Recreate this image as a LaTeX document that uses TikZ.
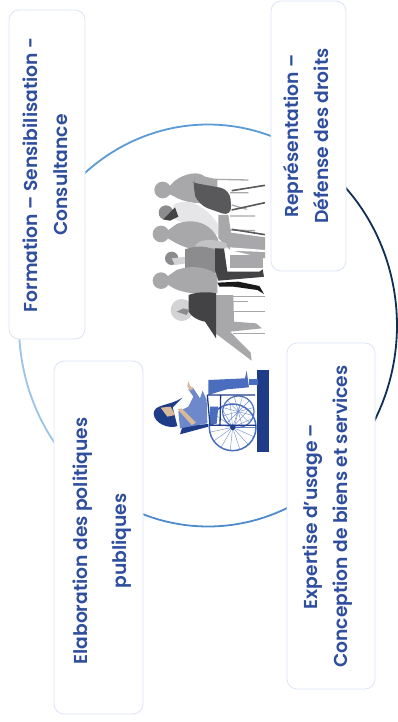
\documentclass[tikz,border=0pt]{standalone}
\usepackage{fontspec}
\setmainfont{Poppins}[BoldFont={Poppins SemiBold}]
\definecolor{txt}{HTML}{2F4E9E}
\definecolor{edge}{HTML}{DCE4F4}
\definecolor{gA}{HTML}{A8A8AA}
\definecolor{gD}{HTML}{59595C}
\definecolor{gK}{HTML}{434345}
\definecolor{gL}{HTML}{E6E6E9}
\definecolor{gM}{HTML}{8C8C8E}
\definecolor{navy}{HTML}{1F3C88}
\definecolor{bM}{HTML}{4A6DBD}
\definecolor{bL}{HTML}{6D88CB}
\definecolor{skin}{HTML}{D9B99B}
\definecolor{ringL}{HTML}{9CC3E8}
\definecolor{ringT}{HTML}{5B9BD5}
\definecolor{ringB}{HTML}{4F8CCB}
\definecolor{ringD}{HTML}{0F2F57}
\tikzset{
  card/.style={draw=edge,line width=0.8pt,fill=white,rounded corners=10pt},
  label/.style={rotate=90,align=center,text=txt,inner sep=0pt,font=\fontsize{18.7}{30}\selectfont\bfseries},
  ring/.style={line width=1.8pt},
  spoke/.style={line width=0.4pt,draw=bL},
  thin leg/.style={draw=gA,line width=1.3pt},
  dark leg/.style={draw=gD,line width=1.6pt}
}
\newcommand{\ringarc}[3]{\draw[ring,#3,domain=#1:#2,samples=40,variable=\t] plot ({208+189*cos(\t)},{325.5-201*sin(\t)});}
\begin{document}
\begin{tikzpicture}[x=1pt,y=-1pt]
\useasboundingbox (0,0) rectangle (398,722);
\fill[white] (0,0) rectangle (398,722);
% ring
\ringarc{135}{65}{color=ringT}
\ringarc{48}{-33}{color=ringD}
\ringarc{-60}{-115}{color=ringB}
\ringarc{175}{222}{color=ringL}
% cards
\node[card,minimum width=76pt,minimum height=329pt] (formation) at (47,174.5) {};
\node[card,minimum width=75pt,minimum height=270pt] (representation) at (308.5,136) {};
\node[card,minimum width=89pt,minimum height=353pt] (elaboration) at (98.5,537.5) {};
\node[card,minimum width=88pt,minimum height=346pt] (expertise) at (331,516) {};
\node[label] (formationtext) at (45,175) {Formation – Sensibilisation -\\Consultance};
\node[label] (representationtext) at (305.5,136) {Représentation –\\Défense des droits};
\node[label,font=\fontsize{18.7}{39}\selectfont\bfseries] (elaborationtext) at (102.5,541) {Elaboration des politiques\\publiques};
\node[label] (expertisetext) at (328,516.5) {Expertise d’usage –\\Conception de biens et services};
% seated people
\begin{scope}[shift={(130,160)},scale=1/3]
  \draw[thin leg] (255,58) -- (355,60) (300,98) -- (355,98) (305,135) -- (350,148) (300,168) -- (375,168) (300,210) -- (375,212);
  \fill[gA] (98,90) circle (25);
  \fill[gA] (112,85) -- (135,62) .. controls (165,40) and (205,32) .. (225,50) -- (262,58) -- (262,125) .. controls (220,135) and (165,130) .. (130,108) -- (112,100) -- cycle;
  \fill[gL] (130,135) .. controls (170,110) and (225,135) .. (262,190) -- (268,225) .. controls (220,215) and (170,195) .. (130,175) -- cycle;
  \fill[gM] (108,158) circle (22);
  \fill[gK] (100,178) -- (135,142) -- (145,170) -- (120,182) -- cycle;
  \fill[gA] (93,222) circle (25);
  \fill[gA] (108,215) -- (140,192) .. controls (190,172) and (245,190) .. (265,240) -- (265,280) .. controls (210,275) and (160,265) .. (122,240) -- (108,232) -- cycle;
  \fill[gA] (265,165) -- (295,165) -- (303,218) -- (405,232) -- (405,295) -- (300,270) -- (265,235) -- cycle;
  \draw[dark leg] (305,92) -- (405,76) (305,150) -- (405,128) (305,208) -- (405,224);
  \fill[gD,rounded corners=10pt] (188,85) .. controls (190,72) and (200,70) .. (215,73) -- (300,88) -- (305,170) -- (205,135) -- cycle;
  \fill[white] (300,262) -- (405,270) -- (405,276) -- (300,272) -- cycle;
  \fill[gA!70] (195,262) .. controls (200,235) and (250,235) .. (290,250) -- (290,265) -- cycle;
  \fill[gA] (300,285) rectangle (400,325);
  \fill[gM] (125,295) circle (20);
  \fill[gL!70!gA] (125,295) -- (170,290) -- (170,310) -- (135,315) -- cycle;
  \fill[gM] (165,268) .. controls (200,255) and (240,258) .. (262,275) -- (262,340) .. controls (225,338) and (190,335) .. (165,325) -- cycle;
  \fill[gA] (93,362) circle (25);
  \fill[gA] (108,352) -- (140,330) .. controls (190,312) and (240,325) .. (262,345) -- (262,400) .. controls (210,405) and (150,400) .. (120,378) -- (108,370) -- cycle;
  \fill[gK] (255,265) -- (282,265) -- (292,335) -- (388,335) -- (398,328) -- (402,350) -- (385,352) -- (265,362) -- (255,330) -- cycle;
  \fill[black!90] (262,368) -- (325,365) -- (388,378) -- (402,402) -- (382,390) -- (310,380) -- (268,380) -- cycle;
\end{scope}
\begin{scope}[shift={(130,300)},scale=1/3]
  \fill[gL!70!gA] (155,30) circle (33);
  \draw[thin leg] (305,-10) -- (405,-10) (305,5) -- (355,5) (305,35) -- (405,35) (310,100) -- (405,100);
  \fill[gA] (258,-15) -- (310,-15) -- (312,65) -- (378,70) -- (396,85) -- (300,95) -- (362,158) -- (365,182) -- (250,95) -- cycle;
  \fill[gK] (176,-15) .. controls (200,-25) and (240,-25) .. (258,-20) -- (258,115) -- (245,95) -- (225,65) .. controls (200,60) and (185,50) .. (176,35) -- cycle;
  \fill[gM] (140,35) -- (160,25) -- (178,30) -- (170,45) -- cycle;
  % wheelchair
  \fill[navy] (382,210) rectangle (418,457);
  \foreach \a in {0,24,...,336} {\draw[spoke] (308,382) -- ++(\a:70);}
  \foreach \a in {15,45,...,345} {\draw[spoke] (325,335) -- ++(\a:46);}
  \draw[bM,line width=1.5pt] (308,382) circle (70);
  \draw[bM,line width=1.2pt] (325,335) circle (47);
  \fill[bM] (235,240) -- (345,235) -- (350,212) -- (357,262) -- (290,268) -- (235,285) -- cycle;
  \fill[bM] (358,238) rectangle (384,256);
  \fill[bM] (240,320) -- (265,320) -- (260,370) -- (240,378) -- cycle;
  \draw[navy,line width=1.3pt] (232,285) -- (375,285) (232,285) -- (240,376) -- (378,376) (272,285) -- (270,376);
  \fill[navy] (308,382) circle (8);
  \fill[navy] (150,403) -- (158,378) -- (235,372) -- (235,380) -- cycle;
  \fill[bL] (145,335) -- (175,320) -- (190,290) -- (175,268) -- (188,262) -- (210,295) -- (218,272) -- (230,300) -- (232,370) -- (150,385) -- cycle;
  \fill[navy] (71,340) .. controls (72,312) and (120,318) .. (157,293) -- (128,322) -- (142,378) .. controls (120,388) and (72,372) .. (71,340) -- cycle;
  \fill[skin] (92,323) -- (122,320) -- (135,345) -- (112,350) -- cycle;
  \fill[skin] (143,328) -- (155,325) -- (198,368) -- (185,375) -- cycle;
  \fill[skin] (175,243) -- (180,258) -- (192,265) -- (180,272) -- (172,258) -- cycle;
\end{scope}
\end{tikzpicture}
\end{document}
